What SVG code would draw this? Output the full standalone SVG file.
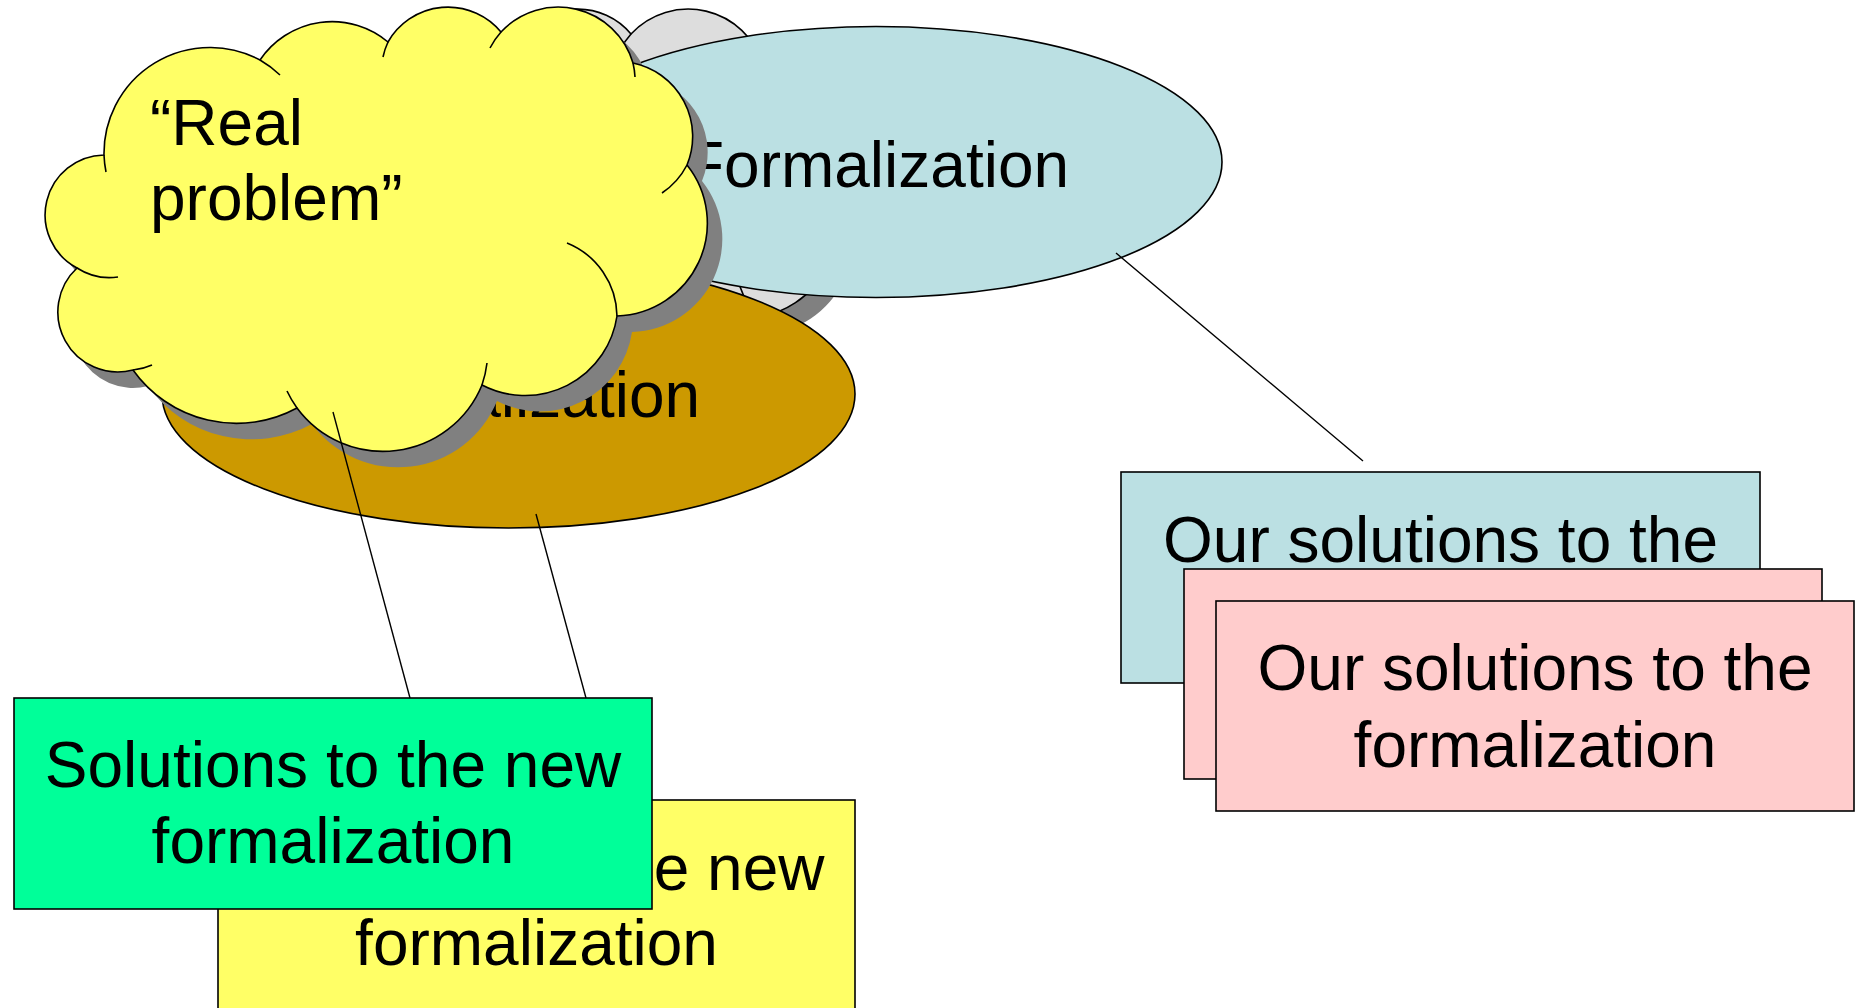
<svg xmlns="http://www.w3.org/2000/svg" width="1856" height="1008" viewBox="0 0 1856 1008">
<style>
.ol{stroke:#000;stroke-width:1.6}
.arc{fill:none;stroke:#000;stroke-width:1.6}
.sh{fill:#808080}
.txt{font-family:"Liberation Sans",Arial,sans-serif;font-size:64px;fill:#000}
.mid{text-anchor:middle}
.end{text-anchor:end}
.conn{stroke:#000;stroke-width:1.4;fill:none}
</style>
<defs>
<path id="cloud" d="M104 155 A106 106 0 0 1 260 60 A87 87 0 0 1 388 42 A69 69 0 0 1 501 32 A78 78 0 0 1 633 63 A75 75 0 0 1 687 165 A93 93 0 0 1 617 316 A93 93 0 0 1 482 385 A107 107 0 0 1 297 408 A127 127 0 0 1 133 370 A60 60 0 0 1 77 268 A60 60 0 0 1 104 155 Z"/>
<path id="cloudArcs" d="M104 155 A106 106 0 0 0 106 172 M260 60 A106 106 0 0 1 280 75 M388 42 A69 69 0 0 0 383 57 M501 32 A78 78 0 0 0 490 48 M633 63 A78 78 0 0 1 635 77 M687 165 A75 75 0 0 1 662 193 M617 316 A80 80 0 0 0 567 243 M482 385 A107 107 0 0 0 487 363 M297 408 A107 107 0 0 1 287 391 M133 370 A60 60 0 0 0 152 365 M77 268 A60 60 0 0 0 118 277"/>
</defs>

<g id="cloud-gray" transform="translate(130,2)">
<use href="#cloud" class="sh" transform="translate(15,16)"/>
<use href="#cloud" class="ol" fill="#DDDDDD"/>
<use href="#cloudArcs" class="arc"/>
</g>

<g id="ellipse-formalization">
<ellipse cx="876" cy="162" rx="346" ry="135.5" fill="#BBE0E3" class="ol"/>
<text x="877" y="187" class="txt mid">Formalization</text>
</g>

<g id="ellipse-new-formalization">
<ellipse cx="508.5" cy="394" rx="346.5" ry="134" fill="#CC9900" class="ol"/>
<text x="508" y="417" class="txt mid">Formalization</text>
</g>

<g id="cloud-real-problem">
<use href="#cloud" class="sh" transform="translate(15,16)"/>
<use href="#cloud" class="ol" fill="#FFFF66"/>
<use href="#cloudArcs" class="arc"/>
<text class="txt" x="150" y="145">“Real</text>
<text class="txt" x="150" y="220">problem”</text>
</g>

<g id="connectors">
<line class="conn" x1="1116" y1="253" x2="1363" y2="461"/>
<line class="conn" x1="333" y1="412" x2="410" y2="698"/>
<line class="conn" x1="536" y1="514" x2="586" y2="698"/>
</g>

<g id="box-yellow-solutions">
<rect x="218" y="800" width="637" height="211" fill="#FFFF66" class="ol"/>
<text class="txt end" x="824.5" y="890">e new</text>
<text class="txt mid" x="536.5" y="965">formalization</text>
</g>

<g id="box-green-solutions">
<rect x="14" y="698" width="638" height="211" fill="#00FF99" class="ol"/>
<text class="txt mid" x="333" y="787">Solutions to the new</text>
<text class="txt mid" x="333" y="863">formalization</text>
</g>

<g id="box-blue-our-solutions">
<rect x="1121" y="472" width="639" height="211" fill="#BBE0E3" class="ol"/>
<text class="txt mid" x="1440.5" y="562">Our solutions to the</text>
</g>

<g id="box-pink-our-solutions-1">
<rect x="1184" y="569" width="638" height="210" fill="#FFCCCC" class="ol"/>
</g>

<g id="box-pink-our-solutions-2">
<rect x="1216" y="601" width="638" height="210" fill="#FFCCCC" class="ol"/>
<text class="txt mid" x="1535" y="690">Our solutions to the</text>
<text class="txt mid" x="1535" y="767">formalization</text>
</g>
</svg>
